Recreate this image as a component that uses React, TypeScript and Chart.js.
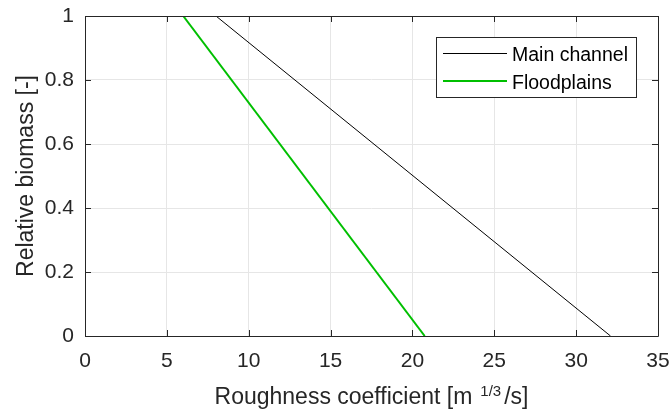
import React, { useEffect, useRef } from "react";
import { Chart, registerables } from "chart.js";

Chart.register(...registerables);

const mainChannelX = [8, 32.1];
const mainChannelY = [1, 0];
const floodplainsX = [6, 20.75];
const floodplainsY = [1, 0];
const xTicks = [0, 5, 10, 15, 20, 25, 30, 35];
const yTicks = [0, 0.2, 0.4, 0.6, 0.8, 1];
const seriesNames = ["Main channel", "Floodplains"];
const seriesColors = ["#000000", "#00bf00"];
const seriesWidths = [1, 2];

const FONT = "'Liberation Sans', Arial, Helvetica, sans-serif";
const AXIS_COLOR = "#262626";

const decorPlugin = {
  id: "decor",
  afterDatasetsDraw(chart: any) {
    const { ctx, chartArea, scales } = chart;
    const { left, right, top, bottom } = chartArea;
    const xs = scales.x;
    const ys = scales.y;
    ctx.save();
    ctx.strokeStyle = AXIS_COLOR;
    ctx.lineWidth = 1;
    ctx.beginPath();
    ctx.rect(Math.round(left) + 0.5, Math.round(top) + 0.5, Math.round(right - left), Math.round(bottom - top));
    ctx.stroke();
    ctx.beginPath();
    const tl = 6;
    for (const v of xTicks) {
      const px = Math.round(xs.getPixelForValue(v)) + 0.5;
      ctx.moveTo(px, bottom);
      ctx.lineTo(px, bottom - tl);
      ctx.moveTo(px, top);
      ctx.lineTo(px, top + tl);
    }
    for (const v of yTicks) {
      const py = Math.round(ys.getPixelForValue(v)) + 0.5;
      ctx.moveTo(left, py);
      ctx.lineTo(left + tl, py);
      ctx.moveTo(right, py);
      ctx.lineTo(right - tl, py);
    }
    ctx.stroke();

    // legend
    const lx = 436.5, ly = 37.5, lw = 200, lh = 60;
    ctx.fillStyle = "#ffffff";
    ctx.fillRect(lx, ly, lw, lh);
    ctx.strokeStyle = AXIS_COLOR;
    ctx.lineWidth = 1;
    ctx.strokeRect(lx, ly, lw, lh);
    ctx.font = `19.5px ${FONT}`;
    ctx.textBaseline = "alphabetic";
    ctx.textAlign = "left";
    const rows = [53, 81];
    seriesNames.forEach((name, i) => {
      ctx.strokeStyle = seriesColors[i];
      ctx.lineWidth = seriesWidths[i];
      const off = seriesWidths[i] === 1 ? 0.5 : 0;
      ctx.beginPath();
      ctx.moveTo(443, rows[i] + off);
      ctx.lineTo(507, rows[i] + off);
      ctx.stroke();
      ctx.fillStyle = "#000000";
      ctx.fillText(name, 512, rows[i] + 8);
    });

    // axis titles
    ctx.fillStyle = AXIS_COLOR;
    const p1 = "Roughness coefficient [m";
    const p2 = "1/3";
    const p3 = "/s]";
    const big = `23px ${FONT}`;
    const small = `15px ${FONT}`;
    ctx.font = big;
    const w1 = ctx.measureText(p1).width;
    const w3 = ctx.measureText(p3).width;
    ctx.font = small;
    const w2 = ctx.measureText(p2).width;
    const gap1 = 8;
    const gap2 = 3;
    const total = w1 + gap1 + w2 + gap2 + w3;
    const x0 = (left + right) / 2 - total / 2;
    const by = 404;
    ctx.textBaseline = "alphabetic";
    ctx.textAlign = "left";
    ctx.font = big;
    ctx.fillText(p1, x0, by);
    ctx.font = small;
    ctx.fillText(p2, x0 + w1 + gap1, by - 8);
    ctx.font = big;
    ctx.fillText(p3, x0 + w1 + gap1 + w2 + gap2, by);

    ctx.translate(33, (top + bottom) / 2);
    ctx.rotate(-Math.PI / 2);
    ctx.textAlign = "center";
    ctx.fillText("Relative biomass [-]", 0, 0);
    ctx.restore();
  },
};

const zeroPad = (s: any) => {
  s.paddingTop = 0;
  s.paddingBottom = 0;
  s.paddingLeft = 0;
  s.paddingRight = 0;
};

export default function App() {
  const ref = useRef<HTMLCanvasElement | null>(null);
  useEffect(() => {
    document.body.style.margin = "0";
    const canvas = ref.current!;
    const chart = new Chart(canvas, {
      type: "line",
      data: {
        datasets: [
          {
            label: seriesNames[0],
            data: mainChannelX.map((x, i) => ({ x, y: mainChannelY[i] })),
            borderColor: seriesColors[0],
            borderWidth: seriesWidths[0],
            pointRadius: 0,
            fill: false,
          },
          {
            label: seriesNames[1],
            data: floodplainsX.map((x, i) => ({ x, y: floodplainsY[i] })),
            borderColor: seriesColors[1],
            borderWidth: seriesWidths[1],
            pointRadius: 0,
            fill: false,
          },
        ],
      },
      options: {
        animation: false,
        responsive: false,
        devicePixelRatio: 1,
        layout: { padding: { left: 0, top: 16, right: 12, bottom: 0 } },
        plugins: { legend: { display: false }, tooltip: { enabled: false } },
        scales: {
          x: {
            type: "linear",
            min: 0,
            max: 35,
            afterBuildTicks: (s: any) => {
              s.ticks = xTicks.map((v) => ({ value: v }));
            },
            afterFit: (s: any) => {
              s.height = 78;
              zeroPad(s);
            },
            grid: { color: "#e6e6e6", drawTicks: false },
            border: { display: false },
            ticks: {
              color: AXIS_COLOR,
              font: { family: FONT, size: 21 },
              padding: 13,
              maxRotation: 0,
              autoSkip: false,
            },
          },
          y: {
            type: "linear",
            min: 0,
            max: 1,
            afterBuildTicks: (s: any) => {
              s.ticks = yTicks.map((v) => ({ value: v }));
            },
            afterFit: (s: any) => {
              s.width = 85;
              zeroPad(s);
            },
            grid: { color: "#e6e6e6", drawTicks: false },
            border: { display: false },
            ticks: {
              color: AXIS_COLOR,
              font: { family: FONT, size: 21 },
              padding: 11,
              autoSkip: false,
              callback: (v: any) => String(Math.round(v * 10) / 10),
            },
          },
        },
      },
      plugins: [decorPlugin],
    });
    return () => chart.destroy();
  }, []);
  return <canvas ref={ref} width={670} height={414} style={{ display: "block" }} />;
}
